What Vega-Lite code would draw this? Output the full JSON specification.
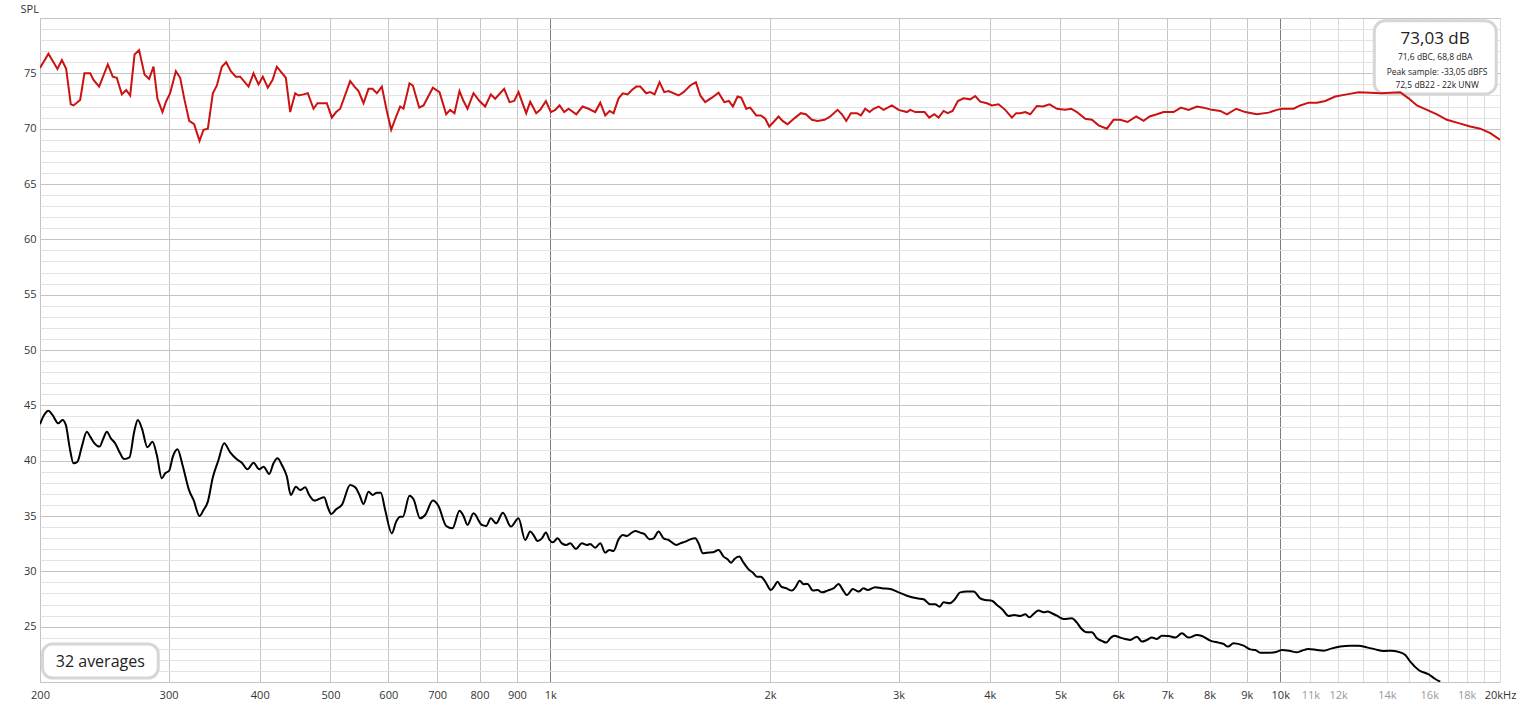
{
  "$schema": "https://vega.github.io/schema/vega-lite/v6.json",
  "width": 1460,
  "height": 664,
  "autosize": {"type": "none"},
  "padding": {"left": 40, "top": 18, "right": 20, "bottom": 24},
  "background": "white",
  "config": {"view": {"stroke": "#bdbdbd", "strokeWidth": 1}, "font": "Open Sans"},
  "datasets": {
    "red": [
      {"f":200,"db":75.48},{"f":205.4,"db":76.78},{"f":211.3,"db":75.4},{"f":214.3,"db":76.2},{"f":217.2,"db":75.4},{"f":220.4,"db":72.2},{"f":222.3,"db":72.1},{"f":227.0,"db":72.6},{"f":230.1,"db":75.0},{"f":234.3,"db":75.0},{"f":236.8,"db":74.4},{"f":241.0,"db":73.8},{"f":247.7,"db":75.8},{"f":251.6,"db":74.7},{"f":254.8,"db":74.6},{"f":258.9,"db":73.1},{"f":262.5,"db":73.5},{"f":265.8,"db":73.0},{"f":269.5,"db":76.7},{"f":273.4,"db":77.1},{"f":278.1,"db":74.9},{"f":282.2,"db":74.5},{"f":286.1,"db":75.6},{"f":289.7,"db":72.7},{"f":294.3,"db":71.5},{"f":297.4,"db":72.4},{"f":301.5,"db":73.2},{"f":307.0,"db":75.2},{"f":311.2,"db":74.6},{"f":315.5,"db":72.6},{"f":320.2,"db":70.7},{"f":325.2,"db":70.4},{"f":330.8,"db":68.9},{"f":335.0,"db":69.9},{"f":339.6,"db":70.0},{"f":345.0,"db":73.2},{"f":349.4,"db":73.9},{"f":354.9,"db":75.6},{"f":359.8,"db":76.0},{"f":365.1,"db":75.2},{"f":370.9,"db":74.7},{"f":376.0,"db":74.7},{"f":386.1,"db":73.8},{"f":392.2,"db":75.0},{"f":398.4,"db":74.0},{"f":403.9,"db":74.7},{"f":410.3,"db":73.7},{"f":416.4,"db":74.4},{"f":422.1,"db":75.6},{"f":434.3,"db":74.6},{"f":440.3,"db":71.5},{"f":447.3,"db":73.2},{"f":452.0,"db":73.0},{"f":459.2,"db":73.1},{"f":465.5,"db":73.2},{"f":473.9,"db":71.8},{"f":479.9,"db":72.3},{"f":494.3,"db":72.3},{"f":502.1,"db":71.0},{"f":509.0,"db":71.5},{"f":515.5,"db":71.8},{"f":532.0,"db":74.3},{"f":539.3,"db":73.8},{"f":546.2,"db":73.4},{"f":554.9,"db":72.3},{"f":563.7,"db":73.6},{"f":570.8,"db":73.6},{"f":578.7,"db":73.2},{"f":587.9,"db":73.8},{"f":597.2,"db":71.6},{"f":605.5,"db":69.9},{"f":615.1,"db":71.1},{"f":622.9,"db":72.0},{"f":629.5,"db":71.8},{"f":641.5,"db":74.1},{"f":648.3,"db":73.9},{"f":661.4,"db":71.9},{"f":670.5,"db":72.1},{"f":690.5,"db":73.7},{"f":705.2,"db":73.3},{"f":720.2,"db":71.3},{"f":729.3,"db":71.7},{"f":739.3,"db":71.4},{"f":751.1,"db":73.4},{"f":760.6,"db":72.5},{"f":770.3,"db":71.8},{"f":785.0,"db":73.2},{"f":800.0,"db":72.5},{"f":814.4,"db":72.0},{"f":829.1,"db":73.1},{"f":840.5,"db":72.7},{"f":864.7,"db":73.6},{"f":879.4,"db":72.4},{"f":892.4,"db":72.5},{"f":904.7,"db":73.3},{"f":926.9,"db":71.4},
      {"f":938.8,"db":72.44},{"f":956.7,"db":71.4},{"f":968.9,"db":71.7},{"f":986.4,"db":72.5},{"f":1002,"db":71.5},{"f":1015.8,"db":71.7},{"f":1029.8,"db":72.1},{"f":1045.1,"db":71.5},{"f":1059.5,"db":71.8},{"f":1085.4,"db":71.3},{"f":1107.3,"db":72.0},{"f":1128.5,"db":71.8},{"f":1152.4,"db":71.5},{"f":1170.8,"db":72.35},{"f":1189.4,"db":71.2},{"f":1205.7,"db":71.6},{"f":1221.0,"db":71.4},{"f":1240.5,"db":72.74},{"f":1257.5,"db":73.2},{"f":1276.2,"db":73.1},{"f":1293.8,"db":73.5},{"f":1311.6,"db":73.8},{"f":1328.2,"db":73.8},{"f":1353.6,"db":73.2},{"f":1370.8,"db":73.3},{"f":1389.6,"db":73.1},{"f":1411.7,"db":74.2},{"f":1432.7,"db":73.3},{"f":1452.4,"db":73.4},{"f":1498.9,"db":73.0},{"f":1522.7,"db":73.3},{"f":1555.1,"db":73.9},{"f":1583.2,"db":74.2},{"f":1605.0,"db":73.0},{"f":1630.4,"db":72.4},{"f":1665.1,"db":72.8},{"f":1700.5,"db":73.25},{"f":1731.2,"db":72.4},{"f":1756.8,"db":72.5},{"f":1779.1,"db":72.0},{"f":1805.5,"db":72.9},{"f":1826.5,"db":72.8},{"f":1855.6,"db":71.8},{"f":1879.1,"db":71.9},{"f":1915.0,"db":71.2},{"f":1943.4,"db":71.2},{"f":1970.2,"db":70.9},{"f":1995.2,"db":70.2},{"f":2022.6,"db":70.6},{"f":2054.8,"db":71.1},{"f":2080.9,"db":70.7},{"f":2113.9,"db":70.4},{"f":2165.7,"db":71.0},{"f":2204.8,"db":71.4},{"f":2239.8,"db":71.3},{"f":2282.6,"db":70.8},{"f":2323.8,"db":70.7},{"f":2375.6,"db":70.8},{"f":2418.5,"db":71.1},{"f":2475.1,"db":71.7},{"f":2509.2,"db":71.3},{"f":2543.7,"db":70.7},{"f":2581.4,"db":71.4},{"f":2630.7,"db":71.4},{"f":2664.1,"db":71.2},{"f":2700.8,"db":71.8},{"f":2738.0,"db":71.5},{"f":2772.7,"db":71.8},{"f":2816.8,"db":72.0},{"f":2861.6,"db":71.7},{"f":2937.8,"db":72.1},{"f":3000.2,"db":71.7},{"f":3080.1,"db":71.5},{"f":3112.7,"db":71.7},{"f":3162.2,"db":71.5},{"f":3256.6,"db":71.5},{"f":3304.9,"db":71.0},{"f":3357.5,"db":71.3},{"f":3403.7,"db":71.0},{"f":3457.8,"db":71.6},{"f":3501.7,"db":71.4},{"f":3557.4,"db":71.6},{"f":3617.7,"db":72.5},{"f":3683.0,"db":72.74},{"f":3761.3,"db":72.65},{"f":3820.9,"db":72.95},{"f":3881.6,"db":72.44},{"f":3964.1,"db":72.3},{"f":4027.2,"db":72.1},{"f":4112.8,"db":72.2},{"f":4200.2,"db":71.7},{"f":4289.4,"db":71.0},{"f":4348.5,"db":71.4},{"f":4403.7,"db":71.4},
      {"f":4474,"db":71.5},{"f":4545,"db":71.3},{"f":4641,"db":72.05},{"f":4730,"db":72.0},{"f":4831,"db":72.2},{"f":4944,"db":71.8},{"f":5075,"db":71.7},{"f":5172,"db":71.8},{"f":5266,"db":71.5},{"f":5406,"db":70.9},{"f":5521,"db":70.8},{"f":5638,"db":70.3},{"f":5788,"db":70.0},{"f":5911,"db":70.8},{"f":6037,"db":70.8},{"f":6178,"db":70.6},{"f":6349,"db":71.1},{"f":6498,"db":70.7},{"f":6622,"db":71.1},{"f":6777,"db":71.3},{"f":6921,"db":71.5},{"f":7143,"db":71.5},{"f":7310,"db":71.9},{"f":7489,"db":71.7},{"f":7689,"db":72.0},{"f":7852,"db":71.9},{"f":8061,"db":71.7},{"f":8276,"db":71.6},{"f":8452,"db":71.3},{"f":8704,"db":71.8},{"f":8955,"db":71.5},{"f":9291,"db":71.3},{"f":9639,"db":71.45},{"f":9895,"db":71.7},{"f":10053,"db":71.8},{"f":10430,"db":71.8},{"f":10651,"db":72.1},{"f":10935,"db":72.35},{"f":11226,"db":72.35},{"f":11525,"db":72.5},{"f":11894,"db":72.9},{"f":12340,"db":73.1},{"f":12803,"db":73.3},{"f":13283,"db":73.25},{"f":13708,"db":73.2},{"f":14148,"db":73.25},{"f":14601,"db":73.3},{"f":14990,"db":72.74},{"f":15389,"db":72.1},{"f":15883,"db":71.7},{"f":16392,"db":71.3},{"f":16918,"db":70.8},{"f":17552,"db":70.5},{"f":18210,"db":70.2},{"f":18794,"db":70.0},{"f":19395,"db":69.6},{"f":20000,"db":69.0}
    ],
    "black": [
      {"f":200,"db":43.3},{"f":202.6,"db":44.13},{"f":205.4,"db":44.52},{"f":208.0,"db":44.13},{"f":212.0,"db":43.37},{"f":214.7,"db":43.68},{"f":217.0,"db":43.22},{"f":219.5,"db":41.27},{"f":222.3,"db":39.76},{"f":225.1,"db":39.91},{"f":228.2,"db":41.27},{"f":231.8,"db":42.62},{"f":234.3,"db":42.17},{"f":237.5,"db":41.57},{"f":241.3,"db":41.27},{"f":244.3,"db":42.02},{"f":246.9,"db":42.62},{"f":250.1,"db":42.02},{"f":253.5,"db":41.57},{"f":257.5,"db":40.66},{"f":260.8,"db":40.15},{"f":265.2,"db":40.3},{"f":269.2,"db":42.62},{"f":272.3,"db":43.68},{"f":275.8,"db":42.92},{"f":280.7,"db":41.21},{"f":285.2,"db":41.72},{"f":289.1,"db":40.51},{"f":293.7,"db":38.4},{"f":296.8,"db":38.86},{"f":300.6,"db":39.1},{"f":304.1,"db":40.36},{"f":308.6,"db":41.03},{"f":313.5,"db":39.61},{"f":320.2,"db":37.29},{"f":324.6,"db":36.45},{"f":330.8,"db":35.0},{"f":335.0,"db":35.54},{"f":339.6,"db":36.3},{"f":345.0,"db":38.5},{"f":351.2,"db":40.06},{"f":357.5,"db":41.57},{"f":364.4,"db":40.75},{"f":372.1,"db":40.12},{"f":378.0,"db":39.82},{"f":384.8,"db":39.22},{"f":392.2,"db":39.82},{"f":399.3,"db":39.22},{"f":404.8,"db":39.46},{"f":412.1,"db":38.8},{"f":417.7,"db":39.76},{"f":423.0,"db":40.21},{"f":428.9,"db":39.61},{"f":435.7,"db":38.56},{"f":441.2,"db":36.9},{"f":448.2,"db":37.65},{"f":454.4,"db":37.35},{"f":461.6,"db":37.59},{"f":467.5,"db":36.9},{"f":474.9,"db":36.39},{"f":481.4,"db":36.51},{"f":490.1,"db":36.69},{"f":495.8,"db":35.79},{"f":501.1,"db":35.18},{"f":509.0,"db":35.6},{"f":518.2,"db":36.0},{"f":532.0,"db":37.8},{"f":540.5,"db":37.59},{"f":547.9,"db":36.9},{"f":554.9,"db":36.09},{"f":563.7,"db":37.2},{"f":571.4,"db":36.9},{"f":578.7,"db":37.11},{"f":586.0,"db":37.11},{"f":594.1,"db":35.54},{"f":606.7,"db":33.43},{"f":615.1,"db":34.49},{"f":622.9,"db":34.94},{"f":628.2,"db":34.94},{"f":641.5,"db":36.84},{"f":649.7,"db":36.51},{"f":663.4,"db":34.79},{"f":674.0,"db":35.09},{"f":690.5,"db":36.39},{"f":702.9,"db":35.9},{"f":720.2,"db":34.1},{"f":734.7,"db":33.89},{"f":751.1,"db":35.48},{"f":760.6,"db":35.0},{"f":770.3,"db":34.19},{"f":785.0,"db":35.24},{"f":805.9,"db":34.19},{"f":817.0,"db":34.1},{"f":829.1,"db":34.79},{"f":843.2,"db":34.34},{"f":861.2,"db":35.3},{"f":883.2,"db":34.04},{"f":904.7,"db":34.79},{"f":923.9,"db":32.83},
      {"f":938.8,"db":33.59},{"f":948.7,"db":33.28},{"f":960.8,"db":32.74},{"f":974.0,"db":32.98},{"f":986.4,"db":33.5},{"f":997.8,"db":32.83},{"f":1008.4,"db":32.62},{"f":1023.3,"db":32.98},{"f":1037.4,"db":32.53},{"f":1051.7,"db":32.38},{"f":1065.0,"db":32.53},{"f":1084.3,"db":32.02},{"f":1105.0,"db":32.53},{"f":1122.5,"db":32.38},{"f":1134.4,"db":32.47},{"f":1152.4,"db":32.14},{"f":1170.8,"db":32.53},{"f":1189.4,"db":31.69},{"f":1204.5,"db":31.93},{"f":1221.0,"db":31.84},{"f":1240.5,"db":32.89},{"f":1257.5,"db":33.28},{"f":1273.5,"db":33.19},{"f":1289.7,"db":33.44},{"f":1307.4,"db":33.65},{"f":1328.2,"db":33.5},{"f":1345.1,"db":33.38},{"f":1367.9,"db":32.89},{"f":1385.3,"db":32.98},{"f":1407.3,"db":33.59},{"f":1429.6,"db":32.98},{"f":1452.4,"db":32.83},{"f":1487.9,"db":32.38},{"f":1506.8,"db":32.53},{"f":1530.8,"db":32.68},{"f":1555.1,"db":32.89},{"f":1579.8,"db":32.98},{"f":1596.5,"db":32.53},{"f":1618.5,"db":31.63},{"f":1639.0,"db":31.69},{"f":1670.4,"db":31.72},{"f":1700.5,"db":31.93},{"f":1727.5,"db":31.33},{"f":1749.5,"db":31.09},{"f":1769.8,"db":30.78},{"f":1786.6,"db":31.09},{"f":1815.1,"db":31.33},{"f":1840.0,"db":30.78},{"f":1869.3,"db":30.18},{"f":1895.0,"db":29.88},{"f":1919.1,"db":29.52},{"f":1943.4,"db":29.52},{"f":1970.2,"db":29.07},{"f":2005.7,"db":28.31},{"f":2029.0,"db":28.68},{"f":2048.3,"db":29.07},{"f":2072.2,"db":28.62},{"f":2105.1,"db":28.47},{"f":2143.0,"db":28.26},{"f":2170.3,"db":28.62},{"f":2195.5,"db":29.16},{"f":2223.4,"db":28.83},{"f":2251.6,"db":28.86},{"f":2289.8,"db":28.26},{"f":2323.8,"db":28.31},{"f":2356.5,"db":28.1},{"f":2398.2,"db":28.26},{"f":2444.1,"db":28.47},{"f":2482.9,"db":28.86},{"f":2517.1,"db":28.31},{"f":2549.0,"db":27.86},{"f":2597.7,"db":28.41},{"f":2644.6,"db":28.17},{"f":2686.6,"db":28.47},{"f":2720.7,"db":28.31},{"f":2787.3,"db":28.56},{"f":2846.5,"db":28.47},{"f":2922.4,"db":28.41},{"f":2984.5,"db":28.17},{"f":3080.1,"db":27.8},{"f":3178.8,"db":27.56},{"f":3246.4,"db":27.47},{"f":3315.4,"db":27.02},{"f":3368.0,"db":27.02},{"f":3414.4,"db":26.81},{"f":3457.8,"db":27.2},{"f":3523.8,"db":27.11},{"f":3576.1,"db":27.41},{"f":3644.4,"db":28.1},{"f":3722.2,"db":28.17},{"f":3801.3,"db":28.17},{"f":3881.6,"db":27.56},{"f":3943.4,"db":27.41},{"f":4027.2,"db":27.35},{"f":4091.2,"db":26.96},{"f":4169.4,"db":26.51},{"f":4244.6,"db":25.97},{"f":4321.1,"db":26.06},{"f":4403.7,"db":25.97},
      {"f":4474,"db":26.12},{"f":4535,"db":25.84},{"f":4593,"db":26.15},{"f":4666,"db":26.45},{"f":4740,"db":26.3},{"f":4800,"db":26.36},{"f":4866,"db":26.21},{"f":4944,"db":25.99},{"f":5049,"db":25.69},{"f":5183,"db":25.75},{"f":5266,"db":25.36},{"f":5349,"db":24.76},{"f":5434,"db":24.49},{"f":5521,"db":24.49},{"f":5609,"db":23.95},{"f":5698,"db":23.71},{"f":5776,"db":23.56},{"f":5850,"db":23.95},{"f":5924,"db":24.19},{"f":6037,"db":24.01},{"f":6133,"db":23.89},{"f":6230,"db":23.8},{"f":6363,"db":24.1},{"f":6464,"db":23.65},{"f":6567,"db":23.8},{"f":6671,"db":24.01},{"f":6777,"db":23.89},{"f":6885,"db":24.19},{"f":7031,"db":24.16},{"f":7181,"db":24.01},{"f":7333,"db":24.4},{"f":7489,"db":24.01},{"f":7689,"db":24.25},{"f":7811,"db":24.16},{"f":8019,"db":23.74},{"f":8232,"db":23.56},{"f":8363,"db":23.44},{"f":8478,"db":23.2},{"f":8631,"db":23.5},{"f":8908,"db":23.28},{"f":9097,"db":22.95},{"f":9242,"db":22.89},{"f":9389,"db":22.65},{"f":9639,"db":22.65},{"f":9895,"db":22.74},{"f":10053,"db":22.89},{"f":10320,"db":22.8},{"f":10540,"db":22.68},{"f":10707,"db":22.83},{"f":10935,"db":22.98},{"f":11226,"db":22.89},{"f":11465,"db":22.83},{"f":11770,"db":23.04},{"f":12084,"db":23.2},{"f":12471,"db":23.28},{"f":12803,"db":23.28},{"f":13144,"db":23.13},{"f":13494,"db":22.95},{"f":13853,"db":22.8},{"f":14222,"db":22.83},{"f":14601,"db":22.68},{"f":14833,"db":22.44},{"f":15069,"db":21.84},{"f":15470,"db":21.09},{"f":15966,"db":20.7},{"f":16306,"db":20.27},{"f":16565,"db":20.03}
    ]
  },
  "layer": [
    {
      "data": {"values": [{"k": 1}]},
      "mark": {"type": "rect", "fill": "white", "stroke": "#d6d6d6", "strokeWidth": 3, "cornerRadius": 11},
      "encoding": {
        "x": {"datum": 13453, "type": "quantitative", "scale": {"type": "log", "domain": [200, 20000], "nice": false}},
        "x2": {"datum": 19763},
        "y": {"datum": 79.76, "type": "quantitative", "scale": {"domain": [20, 80], "nice": false, "zero": false}},
        "y2": {"datum": 73.13}
      }
    },
    {
      "data": {"values": [{"k": 1}]},
      "mark": {"type": "rect", "fill": "white", "stroke": "#d6d6d6", "strokeWidth": 3, "cornerRadius": 10},
      "encoding": {
        "x": {"datum": 201.6, "type": "quantitative"},
        "x2": {"datum": 290.4},
        "y": {"datum": 23.44, "type": "quantitative"},
        "y2": {"datum": 20.36}
      }
    },
    {
      "data": {"name": "red"},
      "mark": {"type": "line", "color": "#cc1111", "strokeWidth": 2, "clip": true},
      "encoding": {
        "x": {
          "field": "f", "type": "quantitative",
          "scale": {"type": "log", "domain": [200, 20000], "nice": false},
          "axis": {
            "title": null,
            "values": [200,300,400,500,600,700,800,900,1000,2000,3000,4000,5000,6000,7000,8000,9000,10000,11000,12000,13000,14000,15000,16000,17000,18000,19000,20000],
            "tickCount": 200,
            "labelExpr": "datum.value == 20000 ? '20kHz' : (datum.value == 13000 || datum.value == 15000 || datum.value == 17000 || datum.value == 19000) ? '' : datum.value >= 1000 ? (datum.value / 1000) + 'k' : datum.value + ''",
            "ticks": false, "tickSize": 0, "domain": false,
            "labelPadding": 7, "labelFontSize": 11, "labelFont": "Open Sans",
            "labelOverlap": false, "labelFlush": false,
            "labelColor": {"condition": {"test": "datum.value > 10000 && datum.value < 20000", "value": "#9a9a9a"}, "value": "#333333"},
            "gridColor": {"condition": [
              {"test": "datum.value == 1000 || datum.value == 10000", "value": "#7c7c7c"},
              {"test": "datum.value > 10000", "value": "#dadada"}
            ], "value": "#c4c4c4"},
            "grid": true
          }
        },
        "y": {
          "field": "db", "type": "quantitative",
          "scale": {"domain": [20, 80], "nice": false, "zero": false},
          "axis": {
            "title": "SPL", "titleAngle": 0, "titleAlign": "left", "titleBaseline": "alphabetic",
            "titleX": -20, "titleY": -6, "titleFontWeight": "normal", "titleFontSize": 11,
            "titleColor": "#333333", "titleFont": "Open Sans",
            "values": [20,21,22,23,24,25,26,27,28,29,30,31,32,33,34,35,36,37,38,39,40,41,42,43,44,45,46,47,48,49,50,51,52,53,54,55,56,57,58,59,60,61,62,63,64,65,66,67,68,69,70,71,72,73,74,75,76,77,78,79,80],
            "tickCount": 200,
            "labelExpr": "(datum.value % 5 == 0 && datum.value > 20 && datum.value < 80) ? datum.value + '' : ''",
            "ticks": false, "tickSize": 0, "domain": false,
            "labelPadding": 4, "labelFontSize": 11, "labelFont": "Open Sans", "labelColor": "#333333",
            "labelOverlap": false, "labelFlush": false,
            "gridColor": {"condition": {"test": "datum.value % 5 == 0", "value": "#c4c4c4"}, "value": "#e2e2e2"},
            "grid": true
          }
        }
      }
    },
    {
      "data": {"name": "black"},
      "mark": {"type": "line", "color": "#000000", "strokeWidth": 2, "interpolate": "monotone", "clip": true},
      "encoding": {
        "x": {"field": "f", "type": "quantitative"},
        "y": {"field": "db", "type": "quantitative"}
      }
    },
    {
      "data": {"values": [{"label": "73,03 dB"}]},
      "mark": {"type": "text", "font": "Open Sans", "fontSize": 17, "color": "#222222", "align": "center", "baseline": "middle"},
      "encoding": {"x": {"datum": 16300, "type": "quantitative"}, "y": {"datum": 78.1, "type": "quantitative"}, "text": {"field": "label"}}
    },
    {
      "data": {"values": [{"label": "71,6 dBC, 68,8 dBA"}]},
      "mark": {"type": "text", "font": "Open Sans", "fontSize": 8.5, "color": "#222222", "align": "center", "baseline": "middle"},
      "encoding": {"x": {"datum": 16300, "type": "quantitative"}, "y": {"datum": 76.5, "type": "quantitative"}, "text": {"field": "label"}}
    },
    {
      "data": {"values": [{"label": "Peak sample: -33,05 dBFS"}]},
      "mark": {"type": "text", "font": "Open Sans", "fontSize": 8.5, "color": "#222222", "align": "center", "baseline": "middle"},
      "encoding": {"x": {"datum": 16400, "type": "quantitative"}, "y": {"datum": 75.15, "type": "quantitative"}, "text": {"field": "label"}}
    },
    {
      "data": {"values": [{"label": "72,5 dB22 - 22k UNW"}]},
      "mark": {"type": "text", "font": "Open Sans", "fontSize": 8.5, "color": "#222222", "align": "center", "baseline": "middle"},
      "encoding": {"x": {"datum": 16400, "type": "quantitative"}, "y": {"datum": 73.95, "type": "quantitative"}, "text": {"field": "label"}}
    },
    {
      "data": {"values": [{"label": "32 averages"}]},
      "mark": {"type": "text", "font": "Open Sans", "fontSize": 16, "color": "#222222", "align": "center", "baseline": "middle"},
      "encoding": {"x": {"datum": 241.9, "type": "quantitative"}, "y": {"datum": 21.8, "type": "quantitative"}, "text": {"field": "label"}}
    }
  ]
}
